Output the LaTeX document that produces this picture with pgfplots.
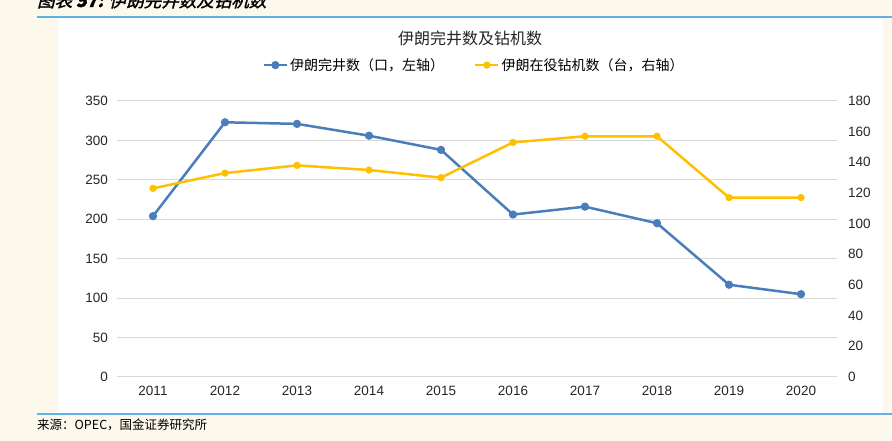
\documentclass[border=0pt]{standalone}
\usepackage{fontspec}
\setmainfont{Liberation Sans}
\newfontfamily\cjk{Noto Sans CJK SC}
\newfontfamily\cjkhead[FakeSlant=0.25,FakeBold=1.5]{Noto Sans CJK SC}
\usepackage{pgfplots}
\pgfplotsset{compat=1.18}

\definecolor{bg}{HTML}{FDF8EC}
\definecolor{rule}{HTML}{5BB4E3}
\definecolor{wblue}{HTML}{4A7EBB}
\definecolor{ryel}{HTML}{FFC000}
\definecolor{gridc}{HTML}{D9D9D9}
\definecolor{txt}{HTML}{262626}

\pgfplotsset{
  twin/.style={
    at={(117pt,64pt)}, anchor=south west,
    scale only axis, width=720pt, height=276pt,
    xmin=-0.5, xmax=9.5,
    axis line style={draw=none},
    major tick length=0pt,
    tick label style={font=\fontsize{13.5}{15}\selectfont, text=txt},
    /pgf/number format/assume math mode=true,
  },
}

\begin{document}
\begin{tikzpicture}[x=1pt,y=1pt]
\fill[bg] (0,0) rectangle (892,441);
\useasboundingbox (0,0) rectangle (892,441);
\fill[white] (58,28) rectangle (883,423);
\draw[rule, line width=1.5pt] (37,424) -- (892,424);
\draw[rule, line width=1.5pt] (37,27) -- (892,27);
\node[anchor=base west, inner sep=0pt, font=\cjkhead\fontsize{17.5}{19}\selectfont] at (37,434)
  {图表 {\bfseries\itshape 57:} 伊朗完井数及钻机数};
\node[anchor=base west, inner sep=0pt, font=\cjk\fontsize{12.5}{14}\selectfont] at (37,11)
  {来源：OPEC，国金证券研究所};
\node[font=\cjk\fontsize{16}{18}\selectfont, text=txt] at (470,403) {伊朗完井数及钻机数};

\begin{axis}[
  twin,
  ymin=0, ymax=350,
  xtick={0,...,9},
  xticklabels={2011,2012,2013,2014,2015,2016,2017,2018,2019,2020},
  ytick={0,50,...,350},
  ymajorgrids, grid style={gridc, line width=1pt},
  xticklabel style={yshift=-6pt},
  yticklabel style={xshift=-5.5pt},
  legend columns=2,
  legend style={at={(0.496,1.13)}, anchor=center, draw=none, fill=none,
    font=\cjk\fontsize{14}{16}\selectfont,
    /tikz/every even column/.append style={column sep=28pt}},
  legend image code/.code={
    \draw[mark repeat=2,mark phase=2] plot coordinates {(0pt,0pt) (11.5pt,0pt) (23pt,0pt)};},
]
\addplot[wblue, line width=2.5pt, mark=*, mark size=2.8pt, mark options={solid}]
  coordinates {(0,204)(1,323)(2,321)(3,306)(4,288)(5,206)(6,216)(7,195)(8,117)(9,105)};
\addlegendentry{伊朗完井数（口，左轴）}
\addlegendimage{ryel, line width=2.5pt, mark=*, mark size=2.3pt, mark options={solid}}
\addlegendentry{伊朗在役钻机数（台，右轴）}
\end{axis}

\begin{axis}[
  twin,
  axis x line=none,
  axis y line*=right,
  ymin=0, ymax=180,
  ytick={0,20,...,180},
  yticklabel style={xshift=7.5pt},
]
\addplot[ryel, line width=2.5pt, mark=*, mark size=2.3pt, mark options={solid}]
  coordinates {(0,123)(1,133)(2,138)(3,135)(4,130)(5,153)(6,157)(7,157)(8,117)(9,117)};
\end{axis}
\end{tikzpicture}
\end{document}
